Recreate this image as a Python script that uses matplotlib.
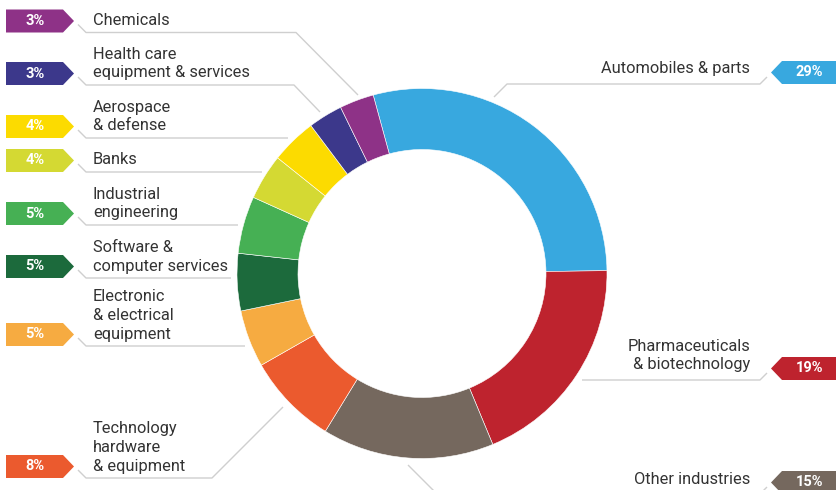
import matplotlib
matplotlib.use("Agg")
import matplotlib.pyplot as plt
from matplotlib.patches import Polygon

# ---------------- data ----------------
categories = ["Automobiles & parts", "Pharmaceuticals\n& biotechnology", "Other industries",
              "Technology\nhardware\n& equipment", "Electronic\n& electrical\nequipment",
              "Software &\ncomputer services", "Industrial\nengineering", "Banks",
              "Aerospace\n& defense", "Health care\nequipment & services", "Chemicals"]
shares = [29, 19, 15, 8, 5, 5, 5, 4, 4, 3, 3]
colors = ["#38a8df", "#be232e", "#75685e", "#eb5a2e", "#f6ab41", "#1c6a3c",
          "#46b054", "#d4d933", "#fcdb00", "#3c388b", "#8e3287"]
tag_labels = [f"{v}%" for v in shares]

# ---------------- layout (pixel coordinates, y measured from top) ----------------
W, H = 837, 490
side = ["R", "R", "R", "L", "L", "L", "L", "L", "L", "L", "L"]
underline_y = [84, 380, 494, 478, 346, 278, 225, 172, 138, 85, 32.5]
# end of horizontal underline towards the donut, plus optional diagonal end point
inner_end = [(507, 84, 494, 97), (582, 380, None, None), (437, 494, 408, 465),
             (212, 478, 283, 407), (245, 346, None, None), (231, 278, None, None),
             (238, 225, None, None), (262, 172, None, None), (288, 138, None, None),
             (294, 85, 320, 112), (296, 32.5, 358, 95)]

LINE_C = "#cfcfcf"
TEXT_C = "#333333"
FS = 11.8

fig = plt.figure(figsize=(W / 100, H / 100), dpi=100)
ax = fig.add_axes([0, 0, 1, 1])


def Y(y):
    return H - y


cx, cy, R, ring = 422, 273.5, 185, 61
ax.pie(shares, colors=colors, startangle=105.3, counterclock=False,
       center=(cx, Y(cy)), radius=R, frame=True,
       wedgeprops=dict(width=ring, edgecolor="white", linewidth=0.4))
ax.set_xlim(0, W)
ax.set_ylim(0, H)
ax.set_aspect("equal")
ax.axis("off")

tag_h = 23
for lab, tag, col, sd, uy, ie in zip(categories, tag_labels, colors, side, underline_y, inner_end):
    top = uy - tag_h
    mid = uy - tag_h / 2
    x_end, y_end, dx, dy = ie
    if sd == "L":
        xs = [78, 86, x_end]
        ys = [uy - 8, uy, uy]
        if dx is not None:
            xs.append(dx); ys.append(dy)
        ax.plot(xs, [Y(v) for v in ys], color=LINE_C, lw=1.0, solid_capstyle="butt", zorder=1)
        poly = [(6, top), (63, top), (74, mid), (63, uy), (6, uy)]
        ax.add_patch(Polygon([(px, Y(py)) for px, py in poly], closed=True, facecolor=col,
                             edgecolor="none", zorder=3))
        ax.text(35, Y(mid), tag, color="white", fontsize=10.5, fontweight="bold",
                family="Roboto", ha="center", va="center", zorder=4)
        ax.text(93, Y(uy - 7.5), lab, color=TEXT_C, fontsize=FS, family="Roboto",
                fontweight="normal", ha="left", va="baseline", linespacing=1.33,
                multialignment="left", zorder=4)
    else:
        xs = [767, 760, x_end]
        ys = [uy - 7, uy, uy]
        if dx is not None:
            xs.append(dx); ys.append(dy)
        ax.plot(xs, [Y(v) for v in ys], color=LINE_C, lw=1.0, solid_capstyle="butt", zorder=1)
        poly = [(771, mid), (782, top), (W + 2, top), (W + 2, uy), (782, uy)]
        ax.add_patch(Polygon([(px, Y(py)) for px, py in poly], closed=True, facecolor=col,
                             edgecolor="none", zorder=3))
        ax.text(809.5, Y(mid), tag, color="white", fontsize=10.5, fontweight="bold",
                family="Roboto", ha="center", va="center", zorder=4)
        ax.text(750, Y(uy - 10.5), lab, color=TEXT_C, fontsize=FS, family="Roboto",
                fontweight="normal", ha="right", va="baseline", linespacing=1.33,
                multialignment="right", zorder=4)

fig.savefig("out.png", dpi=100)
